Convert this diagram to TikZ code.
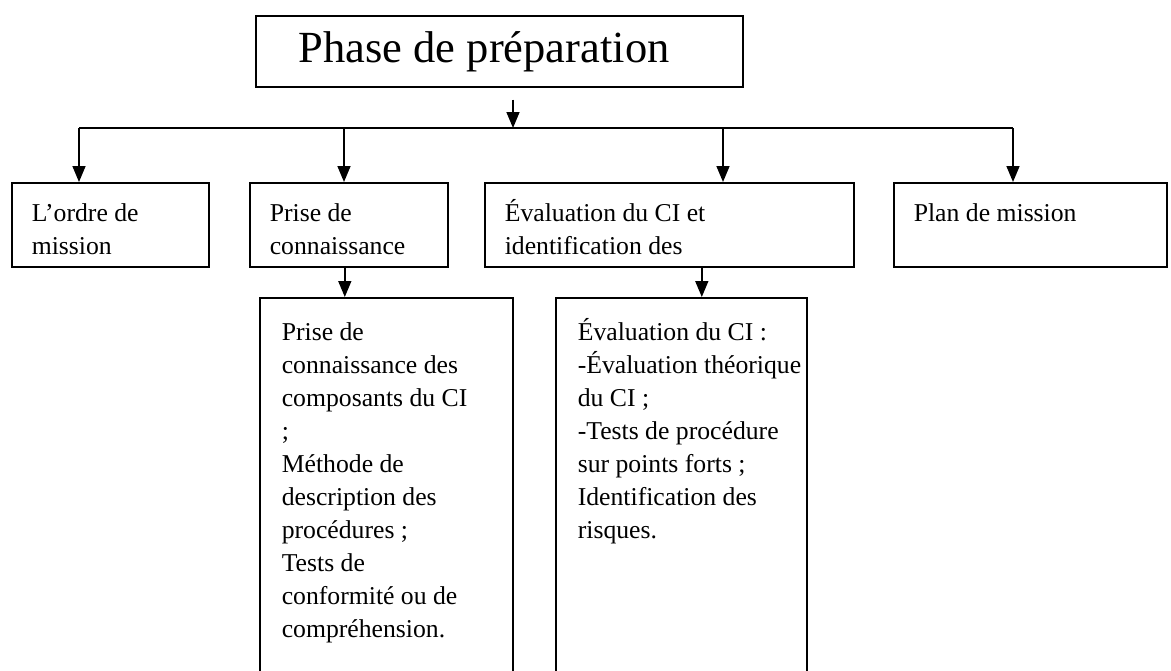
\documentclass[tikz,border=0pt]{standalone}
\usepackage{fontspec}
\setmainfont{Liberation Serif}
\usetikzlibrary{arrows.meta,calc,positioning}

% texte d'un cadre, aligne en haut
\newcommand{\bloc}[4][16pt]{\parbox[c][#2][t]{#3}{\vspace{#1}\raggedright\strut #4}}

\begin{document}
\begin{tikzpicture}[
		x=1pt, y=-1pt,
		boite/.style={draw, line width=1.6pt, anchor=north west, inner xsep=20pt, inner ysep=0pt,
			font=\fontsize{25.7}{33}\selectfont},
		titre/.style={draw, line width=1.6pt, anchor=north west, text width=401pt, align=flush left,
			minimum height=71pt, inner xsep=43pt, inner ysep=0pt, font=\fontsize{44.5}{50}\selectfont},
		trait/.style={line width=1.6pt},
		fleche/.style={line width=1.6pt, -{Triangle[width=13pt,length=16pt]}}
		]
	\useasboundingbox (0,0) rectangle (1171,670);
	\clip (0,0) rectangle (1171,670);

	% Phase de preparation
	\node[titre] (phase) at (255,15) {Phase de préparation};

	% premier niveau
	\node[boite] (ordre) at (11,182) {\bloc{84pt}{157pt}{L'ordre de\\mission}};
	\node[boite] (prise) at (249,182) {\bloc{84pt}{158pt}{Prise de\\connaissance}};
	\node[boite] (eval) at (484,182) {\bloc{84pt}{329pt}{Évaluation du CI et\\identification des}};
	\node[boite] (plan) at (893,182) {\bloc{84pt}{233pt}{Plan de mission}};

	% second niveau
	\node[boite, inner xsep=22pt] (compo) at (259,297) {\bloc[20pt]{403pt}{209pt}{Prise de\\connaissance des\\composants du CI\\;\\Méthode de\\description des\\procédures ;\\Tests de\\conformité ou de\\compréhension.}};
	\node[boite, inner xsep=22pt] (risques) at (555,297) {\bloc[20pt]{403pt}{207pt}{Évaluation du CI :\\\mbox{-Évaluation théorique}\\du CI ;\\-Tests de procédure\\sur points forts ;\\Identification des\\risques.}};

	% liaisons
	\coordinate (bus) at (513,128);
	\coordinate (g) at (79,128);
	\coordinate (c2) at (344,128);
	\coordinate (c3) at (723,128);
	\coordinate (d) at (1013,128);

	\draw[fleche, shorten <=12pt] (phase.south -| bus) -- (bus);
	\draw[trait] (g) -- (d);
	\draw[fleche] (g) -- (g |- ordre.north);
	\draw[fleche] (c2) -- (c2 |- prise.north);
	\draw[fleche] (c3) -- (c3 |- eval.north);
	\draw[fleche] (d) -- (d |- plan.north);

	\draw[fleche] ([xshift=-4pt]prise.south) -- ([xshift=-4pt]prise.south |- compo.north);
	\draw[fleche] ([xshift=32.5pt]eval.south) -- ([xshift=32.5pt]eval.south |- risques.north);
\end{tikzpicture}
\end{document}
